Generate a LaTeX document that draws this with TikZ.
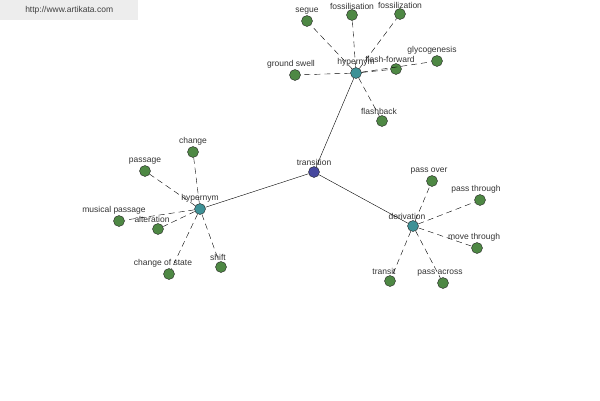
\documentclass[tikz,border=0pt]{standalone}
\usepackage{fontspec}
\setmainfont{Liberation Sans}
\usetikzlibrary{positioning}
\definecolor{leafgreen}{RGB}{78,136,68}
\definecolor{hubteal}{RGB}{62,145,150}
\definecolor{rootblue}{RGB}{70,72,158}
\tikzset{
  basic/.style  = {circle, draw=black!85, thin, minimum size=11pt, inner sep=0pt},
  root/.style   = {basic, fill=rootblue},
  hub/.style    = {basic, fill=hubteal},
  leaf/.style   = {basic, fill=leafgreen},
  every label/.style = {font=\fontsize{8.5}{9}\selectfont, text=black!80, inner sep=1pt},
  link/.style   = {draw, thin, dash pattern=on 6pt off 4pt}
}

\begin{document}
\begin{tikzpicture}[x=1pt, y=-1pt, label distance=0pt]
\useasboundingbox (0,0) rectangle (600,400);

% watermark in the corner
\node[fill=black!7, text=black!75, font=\fontsize{8.5}{9}\selectfont,
      minimum width=138pt, minimum height=20pt, anchor=north west] (mark) at (0,0)
  {http://www.artikata.com};

% root and its three hubs
\node[root] (t) at (314,172) [label=above:transition] {};
\node[hub] (h1) at (356,73) [label=above:hypernym] {};
\node[hub] (h2) at (200,209) [label=above:hypernym] {};
\node[hub] (h3) at (413,226) [label={[xshift=-6pt]above:derivation}] {};

% leaves of the first hypernym
\node[leaf] (h11) at (307,21) [label=above:segue] {};
\node[leaf] (h12) at (352,15) [label={[label distance=-1.5pt]above:fossilisation}] {};
\node[leaf] (h13) at (400,14) [label={[label distance=-1.5pt]above:fossilization}] {};
\node[leaf] (h14) at (295,75) [label={[xshift=-4pt]above:ground swell}] {};
\node[leaf] (h15) at (437,61) [label={[xshift=-5pt]above:glycogenesis}] {};
\node[leaf] (h16) at (396,69) [label={[xshift=-6pt]above:flash-forward}] {};
\node[leaf] (h17) at (382,121) [label={[xshift=-3pt]above:flashback}] {};

% leaves of the second hypernym
\node[leaf] (h21) at (193,152) [label=above:change] {};
\node[leaf] (h22) at (145,171) [label=above:passage] {};
\node[leaf] (h23) at (119,221) [label={[xshift=-5pt]above:musical passage}] {};
\node[leaf] (h24) at (158,229) [label={[xshift=-6pt]above:alteration}] {};
\node[leaf] (h25) at (169,274) [label={[xshift=-6pt]above:change of state}] {};
\node[leaf] (h26) at (221,267) [label={[xshift=-3pt]above:shift}] {};

% leaves of the derivation
\node[leaf] (h31) at (432,181) [label={[xshift=-3pt]above:pass over}] {};
\node[leaf] (h32) at (480,200) [label={[xshift=-4pt]above:pass through}] {};
\node[leaf] (h33) at (477,248) [label={[xshift=-3pt]above:move through}] {};
\node[leaf] (h34) at (390,281) [label={[xshift=-6pt]above:transit}] {};
\node[leaf] (h35) at (443,283) [label={[xshift=-3pt]above:pass across}] {};

% solid lines from the root
\foreach \value in {1,...,3}
  \draw[thin] (t) -- (h\value);

% dashed lines from each hub to its leaves
\foreach \value in {1,...,7}
  \draw[link] (h1) -- (h1\value);
\foreach \value in {1,...,6}
  \draw[link] (h2) -- (h2\value);
\foreach \value in {1,...,5}
  \draw[link] (h3) -- (h3\value);
\end{tikzpicture}
\end{document}
